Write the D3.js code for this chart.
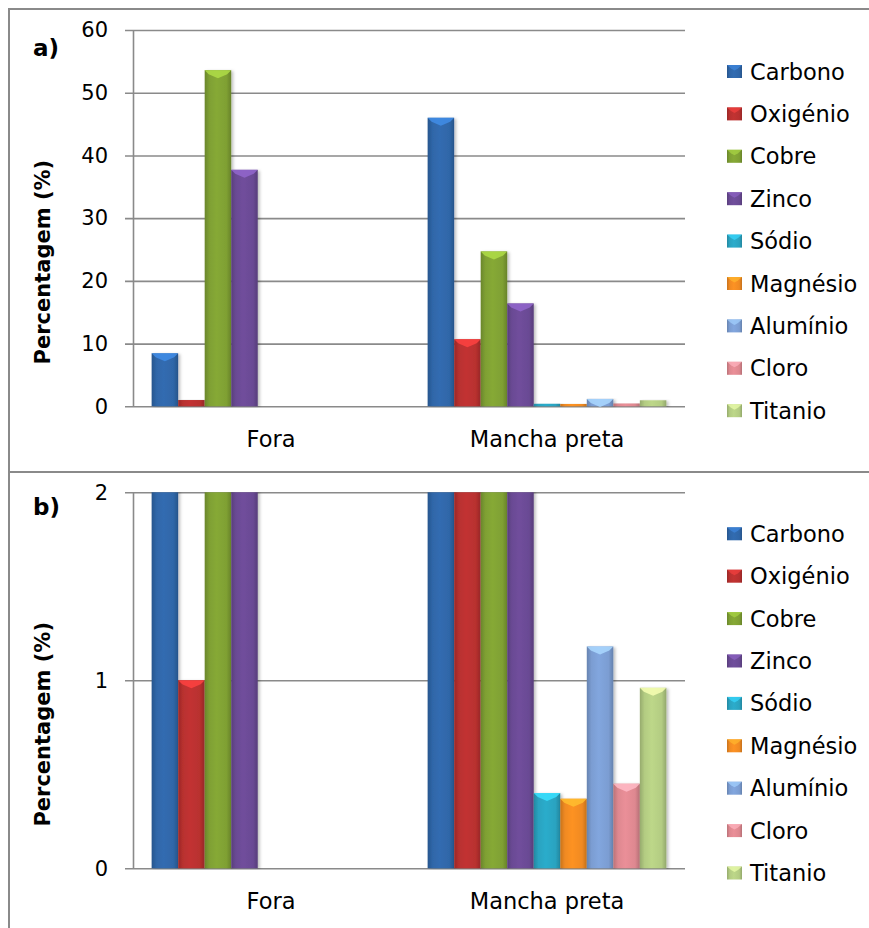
<!DOCTYPE html>
<html>
<head>
<meta charset="utf-8">
<script src="https://cdn.jsdelivr.net/npm/d3@7"></script>
<style>
  html, body { margin: 0; padding: 0; background: #fff; }
  svg { display: block; font-family: "DejaVu Sans", sans-serif; }
</style>
</head>
<body>
<svg id="chart" width="869" height="928"></svg>
<script>
// Composition (%) measured outside and on the black stain
const categories = ["Fora", "Mancha preta"];
const elements = ["Carbono", "Oxigénio", "Cobre", "Zinco", "Sódio", "Magnésio", "Alumínio", "Cloro", "Titanio"];
const foraValues = [8.45, 1.0, 53.6, 37.7, 0, 0, 0, 0, 0];
const manchaValues = [46.0, 10.7, 24.7, 16.4, 0.40, 0.37, 1.18, 0.45, 0.96];
const colors = ["#2f66a8", "#b8302f", "#7fa033", "#6a4a94", "#2aa3c0", "#f08a22", "#7b9dd2", "#de8890", "#b3cc82"];
const ticksA = [0, 10, 20, 30, 40, 50, 60];
const ticksB = [0, 1, 2];

const rows = categories.map((c, i) => ({
  category: c,
  values: elements.map((e, j) => ({ element: e, idx: j, value: [foraValues, manchaValues][i][j] }))
}));

const svg = d3.select("#chart");
const defs = svg.append("defs");

// Bevelled fill for each series: dark edges, lighter core
colors.forEach((c, i) => {
  const base = d3.color(c);
  const g = defs.append("linearGradient").attr("id", "grad" + i)
    .attr("x1", "0%").attr("x2", "100%").attr("y1", "0%").attr("y2", "0%");
  g.append("stop").attr("offset", "0%").attr("stop-color", base.darker(0.5));
  g.append("stop").attr("offset", "18%").attr("stop-color", base);
  g.append("stop").attr("offset", "45%").attr("stop-color", base.brighter(0.15));
  g.append("stop").attr("offset", "82%").attr("stop-color", base);
  g.append("stop").attr("offset", "100%").attr("stop-color", base.darker(0.55));
});
const shadow = defs.append("filter").attr("id", "shadow")
  .attr("x", "-20%").attr("y", "-5%").attr("width", "150%").attr("height", "115%");
shadow.append("feDropShadow").attr("dx", 2).attr("dy", 1).attr("stdDeviation", 1.5)
  .attr("flood-color", "#000").attr("flood-opacity", 0.25);

// Frame lines
const frameColor = "#8a8a8a";
svg.append("line").attr("x1", 9).attr("x2", 9).attr("y1", 8.5).attr("y2", 928)
  .attr("stroke", frameColor).attr("stroke-width", 2);
svg.append("line").attr("x1", 8).attr("x2", 869).attr("y1", 9).attr("y2", 9)
  .attr("stroke", frameColor).attr("stroke-width", 2);
svg.append("line").attr("x1", 8).attr("x2", 869).attr("y1", 472).attr("y2", 472)
  .attr("stroke", frameColor).attr("stroke-width", 2);

const plotLeft = 133, plotRight = 685;
const x0 = d3.scaleBand().domain(categories).range([plotLeft, plotRight])
  .paddingInner(0.135).paddingOuter(0.0675);
const x1 = d3.scaleBand().domain(elements).range([0, x0.bandwidth()]).padding(0);

const panels = [
  { tag: "a)", max: 60, ticks: ticksA, top: 30, bottom: 406.3, tagY: 56 },
  { tag: "b)", max: 2, ticks: ticksB, top: 492.3, bottom: 868.3, tagY: 515 }
];

panels.forEach((p, pi) => {
  const y = d3.scaleLinear().domain([0, p.max]).range([p.bottom, p.top]);
  const g = svg.append("g");

  // Y axis with gridlines
  const axis = d3.axisLeft(y).tickValues(p.ticks).tickSize(8).tickSizeOuter(0).tickPadding(17)
    .tickFormat(d3.format("d"));
  const ax = g.append("g").attr("transform", `translate(${plotLeft},0)`).call(axis);
  ax.select(".domain").attr("stroke", "#8a8a8a").attr("stroke-width", 1.6)
    .attr("d", `M0.5,${p.top}V${p.bottom}`);
  ax.selectAll(".tick line").attr("x1", -8).attr("x2", plotRight - plotLeft)
    .attr("stroke", "#8a8a8a").attr("stroke-width", 1.6);
  ax.selectAll(".tick text").attr("font-size", 21).attr("fill", "#000")
    .attr("font-family", "DejaVu Sans, sans-serif").attr("x", -25);

  // Bars (clipped to the plot area)
  const clipId = "clip" + pi;
  defs.append("clipPath").attr("id", clipId).append("rect")
    .attr("x", plotLeft).attr("y", p.top).attr("width", plotRight - plotLeft).attr("height", p.bottom - p.top + 1);
  const barsG = g.append("g").attr("clip-path", `url(#${clipId})`);
  const groups = barsG.selectAll(".grp").data(rows).join("g")
    .attr("transform", d => `translate(${x0(d.category)},0)`);
  const bars = groups.selectAll(".bar").data(d => d.values.filter(v => v.value > 0)).join("g");
  bars.append("rect")
    .attr("x", d => x1(d.element))
    .attr("width", x1.bandwidth())
    .attr("y", d => y(Math.min(d.value, p.max * 1.02)))
    .attr("height", d => p.bottom - y(Math.min(d.value, p.max * 1.02)))
    .attr("fill", d => `url(#grad${d.idx})`)
    .attr("filter", "url(#shadow)");
  // Light bevel on the top face of bars that end inside the plot
  bars.filter(d => d.value <= p.max && (p.bottom - y(d.value)) > 7)
    .append("path")
    .attr("d", d => {
      const l = x1(d.element), w = x1.bandwidth(), t = y(d.value);
      return `M${l},${t}H${l + w}L${l + w - 4},${t + 4}L${l + w / 2},${t + 8}L${l + 4},${t + 4}Z`;
    })
    .attr("fill", d => d3.color(colors[d.idx]).brighter(0.9))
    .attr("opacity", 0.85);

  // Category labels
  g.selectAll(".cat").data(categories).join("text")
    .attr("x", d => x0(d) + x0.bandwidth() / 2)
    .attr("y", p.bottom + 41)
    .attr("text-anchor", "middle")
    .attr("font-size", 22.5)
    .attr("fill", "#000")
    .text(d => d);

  // Y axis title
  g.append("text")
    .attr("transform", `translate(43,${(p.top + p.bottom) / 2 + 44}) rotate(-90)`)
    .attr("text-anchor", "middle")
    .attr("dominant-baseline", "central")
    .attr("font-size", 21)
    .attr("font-weight", "bold")
    .attr("fill", "#000")
    .text("Percentagem (%)");

  // Panel tag
  g.append("text").attr("x", 33).attr("y", p.tagY)
    .attr("font-size", 23).attr("font-weight", "bold").attr("fill", "#000")
    .text(p.tag);

  // Legend
  const leg = g.selectAll(".leg").data(elements).join("g")
    .attr("transform", (d, i) => `translate(727,${p.top + 41.5 + 42.4 * i})`);
  leg.append("rect").attr("x", 0).attr("y", -6.5).attr("width", 15).attr("height", 13)
    .attr("fill", (d, i) => `url(#grad${i})`);
  leg.append("path")
    .attr("d", "M0,-6.5H15L11,-3L7.5,-1L4,-3Z")
    .attr("fill", (d, i) => d3.color(colors[i]).brighter(0.8)).attr("opacity", 0.7);
  leg.append("text").attr("x", 23).attr("y", 0)
    .attr("dominant-baseline", "central")
    .attr("font-size", 22.5).attr("fill", "#000")
    .text(d => d);
});
</script>
</body>
</html>
